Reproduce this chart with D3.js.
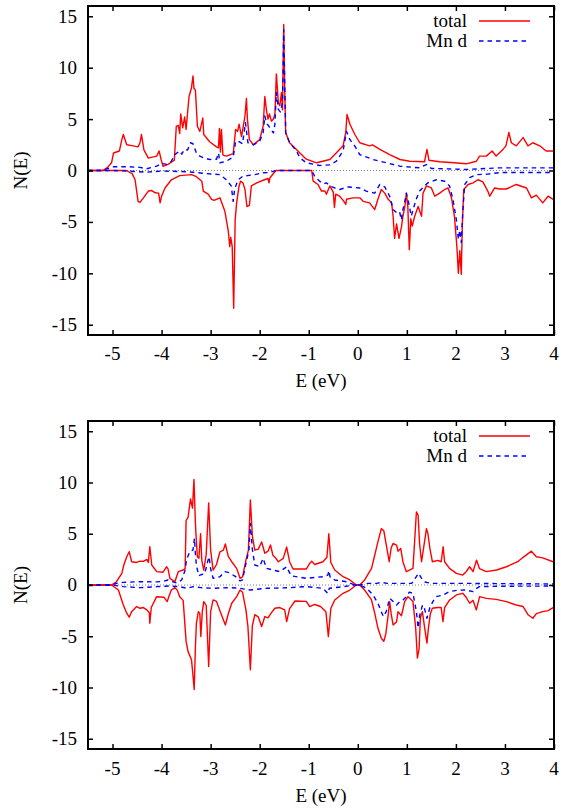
<!DOCTYPE html>
<html>
<head>
<meta charset="utf-8">
<script src="https://cdn.jsdelivr.net/npm/d3@7"></script>
<style>
html,body{margin:0;padding:0;background:#fff;}
svg{display:block;}
</style>
</head>
<body>
<svg id="chart" width="561" height="809"></svg>
<script>
// ---------------- DATA ----------------
const xTicks = [-5, -4, -3, -2, -1, 0, 1, 2, 3, 4];
const yTicks = [-15, -10, -5, 0, 5, 10, 15];
const xDomain = [-5.5, 4];
const yDomain = [-16, 16];
const legendLabels = ["total", "Mn d"];
const xLabel = "E (eV)";
const yLabel = "N(E)";

// Top panel: total DOS, spin up (positive)
const topTotalUp = [[-5.5,0],[-5.2,0],[-5.1,0.3],[-5.02,0.75],[-4.98,1.7],[-4.86,1.9],[-4.81,3.0],[-4.78,3.5],[-4.71,2.5],[-4.58,2.4],[-4.48,2.3],[-4.44,2.7],[-4.41,3.5],[-4.36,2.0],[-4.27,1.2],[-4.10,1.4],[-4.05,1.9],[-4.01,1.07],[-3.97,0.4],[-3.87,0.6],[-3.74,1.0],[-3.70,4.3],[-3.66,4.4],[-3.63,3.6],[-3.61,5.5],[-3.57,4.15],[-3.53,5.2],[-3.50,4.0],[-3.44,7.2],[-3.39,8.05],[-3.36,9.2],[-3.34,8.0],[-3.31,7.8],[-3.27,4.3],[-3.22,3.8],[-3.16,5.1],[-3.14,3.5],[-3.02,2.8],[-2.88,2.3],[-2.84,2.2],[-2.82,4.1],[-2.80,1.8],[-2.78,4.0],[-2.75,1.5],[-2.68,1.4],[-2.54,1.65],[-2.49,4.0],[-2.45,3.8],[-2.42,4.5],[-2.37,3.3],[-2.30,5.3],[-2.27,7.0],[-2.25,5.0],[-2.21,3.0],[-2.13,2.5],[-2.00,3.0],[-1.93,4.3],[-1.895,7.2],[-1.86,5.8],[-1.83,5.0],[-1.80,5.5],[-1.76,4.8],[-1.72,5.0],[-1.69,5.5],[-1.66,9.4],[-1.62,6.6],[-1.59,6.3],[-1.555,7.6],[-1.535,5.9],[-1.51,14.2],[-1.49,8],[-1.47,3.7],[-1.39,2.7],[-1.18,1.7],[-1.05,1.1],[-0.84,0.75],[-0.57,1.07],[-0.44,1.7],[-0.30,2.4],[-0.245,3.7],[-0.22,5.45],[-0.16,4.5],[-0.06,3.5],[0.04,2.7],[0.24,2.4],[0.30,2.5],[0.45,2.05],[0.65,1.55],[0.86,1.07],[1.06,0.9],[1.36,0.85],[1.41,2.05],[1.45,1.0],[1.67,0.85],[1.97,0.75],[2.21,0.65],[2.42,0.9],[2.48,1.4],[2.62,1.4],[2.74,1.9],[2.82,1.4],[2.96,2.05],[3.02,2.4],[3.08,3.7],[3.13,2.7],[3.23,2.4],[3.37,3.2],[3.47,2.4],[3.57,2.7],[3.71,2.4],[3.84,1.9],[4.0,1.9]];
// Top panel: total DOS, spin down (negative)
const topTotalDown = [[-5.5,0],[-4.72,0],[-4.6,-0.3],[-4.54,-0.9],[-4.48,-3.0],[-4.44,-3.1],[-4.37,-2.66],[-4.27,-2.0],[-4.2,-1.95],[-4.13,-2.17],[-4.06,-2.2],[-4.03,-3.15],[-4.0,-2.5],[-3.93,-1.7],[-3.80,-0.9],[-3.63,-0.5],[-3.39,-0.4],[-3.29,-0.6],[-3.18,-1.04],[-3.15,-2.0],[-3.05,-2.3],[-2.98,-2.8],[-2.93,-2.9],[-2.81,-2.66],[-2.71,-3.96],[-2.64,-5.9],[-2.61,-7.4],[-2.59,-6.5],[-2.56,-7.4],[-2.53,-13.4],[-2.50,-4.8],[-2.47,-3.15],[-2.42,-1.5],[-2.39,-1.04],[-2.34,-1.2],[-2.30,-1.85],[-2.26,-3.5],[-2.21,-3.4],[-2.17,-1.5],[-2.06,-1.2],[-1.93,-0.95],[-1.83,-0.78],[-1.81,-1.2],[-1.79,-0.7],[-1.67,0],[-0.94,0],[-0.91,-1.04],[-0.81,-1.36],[-0.74,-2.0],[-0.67,-2.0],[-0.64,-2.3],[-0.57,-1.5],[-0.50,-2.1],[-0.476,-3.6],[-0.45,-2.3],[-0.37,-2.5],[-0.29,-2.95],[-0.245,-3.3],[-0.23,-2.8],[-0.10,-2.66],[0.04,-2.66],[0.11,-3.0],[0.24,-3.15],[0.345,-3.8],[0.41,-2.8],[0.48,-1.85],[0.55,-2.2],[0.62,-2.8],[0.69,-3.15],[0.72,-4.45],[0.75,-6.6],[0.79,-5.2],[0.84,-6.6],[0.89,-5.5],[0.92,-4.45],[0.96,-3.5],[0.99,-2.2],[1.02,-3.5],[1.05,-7.7],[1.08,-4.7],[1.11,-5.4],[1.16,-4.45],[1.23,-3.5],[1.30,-4.45],[1.33,-2.2],[1.40,-1.5],[1.50,-1.7],[1.57,-2.5],[1.67,-2.2],[1.77,-1.85],[1.84,-1.7],[1.91,-2.66],[1.97,-4.45],[2.02,-7.4],[2.05,-10.0],[2.08,-7.8],[2.11,-10.1],[2.13,-5.5],[2.16,-1.85],[2.25,-1.36],[2.35,-1.2],[2.45,-0.9],[2.55,-1.1],[2.65,-2.0],[2.69,-2.5],[2.79,-1.7],[2.89,-1.8],[3.03,-1.8],[3.23,-1.36],[3.44,-1.7],[3.54,-2.66],[3.64,-2.4],[3.77,-3.15],[3.88,-2.5],[3.98,-2.8]];
// Top panel: Mn d, spin up
const topMnUp = [[-5.5,0],[-5.2,0],[-5.0,0.36],[-4.65,0.36],[-4.44,0.3],[-4.31,0.16],[-4.10,0.42],[-4.0,0.68],[-3.9,0.6],[-3.80,0.9],[-3.73,1.55],[-3.63,1.9],[-3.59,1.6],[-3.53,2.05],[-3.47,2.0],[-3.41,2.7],[-3.36,2.6],[-3.29,1.7],[-3.22,1.4],[-3.15,1.24],[-3.02,1.07],[-2.88,1.1],[-2.84,1.7],[-2.81,0.75],[-2.68,0.9],[-2.54,1.3],[-2.49,2.85],[-2.42,2.8],[-2.35,2.6],[-2.29,4.65],[-2.24,2.7],[-2.13,2.5],[-2.00,2.85],[-1.93,3.65],[-1.895,5.3],[-1.86,4.6],[-1.79,4.15],[-1.72,3.65],[-1.69,4.5],[-1.66,7.6],[-1.62,5.95],[-1.58,5.7],[-1.535,6.6],[-1.51,13.7],[-1.47,3.65],[-1.39,2.7],[-1.25,1.9],[-1.18,1.24],[-1.05,0.75],[-0.78,0.49],[-0.57,0.55],[-0.44,0.9],[-0.30,1.9],[-0.23,3.8],[-0.16,3.0],[-0.06,2.37],[0.04,1.55],[0.31,1.07],[0.58,0.75],[0.86,0.42],[1.26,0.26],[1.40,0.58],[1.5,0.2],[2.21,0.1],[2.89,0.26],[4.0,0.26]];
// Top panel: Mn d, spin down
const topMnDown = [[-5.5,0],[-5.0,0],[-4.65,-0.07],[-4.31,-0.17],[-4.0,-0.05],[-3.6,-0.1],[-3.35,-0.17],[-3.08,-0.3],[-2.81,-0.4],[-2.68,-0.9],[-2.58,-1.5],[-2.54,-3.0],[-2.51,-1.8],[-2.44,-0.9],[-2.34,-0.55],[-2.1,-0.4],[-1.93,-0.22],[-1.8,-0.2],[-1.67,0],[-0.94,0],[-0.88,-0.55],[-0.78,-1.04],[-0.7,-1.3],[-0.64,-1.2],[-0.57,-1.5],[-0.47,-1.7],[-0.37,-1.85],[-0.2,-1.6],[0.04,-1.7],[0.17,-2.0],[0.345,-2.2],[0.45,-1.36],[0.55,-1.6],[0.65,-2.5],[0.72,-3.8],[0.79,-4.1],[0.85,-4.0],[0.89,-4.8],[0.92,-3.8],[0.96,-3.0],[0.99,-2.2],[1.04,-3.2],[1.09,-4.45],[1.14,-3.6],[1.19,-2.8],[1.26,-2.0],[1.36,-1.5],[1.43,-1.2],[1.60,-0.9],[1.77,-1.04],[1.87,-1.5],[1.94,-2.8],[2.01,-4.8],[2.05,-6.7],[2.08,-5.8],[2.11,-7.0],[2.14,-4.0],[2.18,-1.36],[2.28,-0.7],[2.42,-0.4],[2.65,-0.35],[2.9,-0.2],[4.0,-0.2]];

// Bottom panel: total DOS, spin up
const botTotalUp = [[-5.5,0],[-5.02,0],[-4.92,0.32],[-4.81,1.14],[-4.77,1.95],[-4.71,2.75],[-4.66,3.25],[-4.61,2.27],[-4.51,2.2],[-4.44,2.33],[-4.37,2.3],[-4.30,2.5],[-4.27,2.2],[-4.24,3.73],[-4.20,1.95],[-4.10,1.3],[-3.97,1.25],[-3.90,1.78],[-3.87,1.6],[-3.83,0.65],[-3.73,0.32],[-3.66,1.3],[-3.56,1.46],[-3.52,1.6],[-3.50,6.3],[-3.46,6.6],[-3.41,8.4],[-3.37,7.5],[-3.34,10.3],[-3.31,6.0],[-3.29,4.2],[-3.27,2.75],[-3.24,2.6],[-3.205,5.0],[-3.18,2.4],[-3.14,1.46],[-3.09,3.0],[-3.04,8.0],[-3.0,3.4],[-2.95,1.46],[-2.88,2.0],[-2.81,3.24],[-2.74,3.4],[-2.70,4.0],[-2.64,2.8],[-2.57,2.27],[-2.47,1.62],[-2.40,0.65],[-2.35,0.8],[-2.28,2.43],[-2.23,3.4],[-2.19,8.3],[-2.15,4.8],[-2.10,3.4],[-2.03,3.5],[-1.96,4.2],[-1.895,3.1],[-1.83,3.3],[-1.78,3.9],[-1.73,2.9],[-1.67,2.6],[-1.62,2.27],[-1.52,2.6],[-1.45,3.7],[-1.39,2.27],[-1.32,1.56],[-1.05,1.56],[-0.98,2.1],[-0.94,2.33],[-0.88,2.0],[-0.71,2.27],[-0.63,2.7],[-0.59,5.0],[-0.55,2.2],[-0.47,1.46],[-0.30,0.81],[-0.16,0.49],[-0.03,0],[0.04,0],[0.14,0.49],[0.28,1.62],[0.345,2.9],[0.41,4.2],[0.48,5.5],[0.53,5.3],[0.57,4.2],[0.64,2.27],[0.68,3.6],[0.72,4.05],[0.79,3.9],[0.82,3.3],[0.875,3.57],[0.92,2.27],[0.99,1.3],[1.125,1.62],[1.195,7.13],[1.23,6.8],[1.26,4.0],[1.30,2.27],[1.36,4.2],[1.40,5.5],[1.43,5.0],[1.47,3.57],[1.52,2.27],[1.63,2.4],[1.70,2.27],[1.74,3.73],[1.77,2.27],[1.87,1.62],[2.01,1.14],[2.14,0.97],[2.21,1.3],[2.28,1.78],[2.35,1.3],[2.42,2.43],[2.48,1.6],[2.62,1.3],[2.83,1.46],[3.03,1.78],[3.26,2.27],[3.37,2.7],[3.54,3.3],[3.64,2.75],[3.77,2.65],[3.98,2.27]];
// Bottom panel: total DOS, spin down
const botTotalDown = [[-5.5,0],[-5.02,0],[-4.88,-0.49],[-4.78,-1.95],[-4.71,-2.75],[-4.66,-3.14],[-4.61,-2.6],[-4.51,-2.1],[-4.44,-2.27],[-4.37,-2.2],[-4.30,-2.43],[-4.25,-2.7],[-4.24,-3.73],[-4.21,-2.2],[-4.10,-1.14],[-3.95,-1.2],[-3.885,-1.62],[-3.85,-1.1],[-3.80,-0.49],[-3.73,-0.26],[-3.68,-0.5],[-3.63,-1.14],[-3.56,-1.5],[-3.50,-5.5],[-3.46,-6.5],[-3.39,-7.3],[-3.37,-8.3],[-3.335,-10.2],[-3.31,-6.0],[-3.29,-3.73],[-3.25,-2.6],[-3.22,-2.8],[-3.20,-5.03],[-3.17,-2.6],[-3.14,-1.62],[-3.09,-2.0],[-3.04,-7.95],[-3.0,-2.6],[-2.95,-1.46],[-2.88,-1.6],[-2.78,-2.9],[-2.70,-3.9],[-2.64,-2.8],[-2.57,-1.78],[-2.47,-1.14],[-2.40,-0.49],[-2.35,-0.7],[-2.28,-2.43],[-2.24,-4.05],[-2.19,-8.27],[-2.15,-4.0],[-2.10,-2.9],[-2.03,-3.1],[-1.96,-4.05],[-1.895,-3.08],[-1.83,-3.2],[-1.76,-2.7],[-1.69,-2.27],[-1.59,-2.2],[-1.49,-2.43],[-1.45,-3.57],[-1.39,-2.3],[-1.28,-1.56],[-1.05,-1.6],[-0.98,-2.1],[-0.88,-1.9],[-0.76,-2.1],[-0.65,-2.6],[-0.60,-5.03],[-0.55,-2.3],[-0.47,-1.46],[-0.30,-0.81],[-0.16,-0.49],[-0.03,0],[0.04,0],[0.14,-0.49],[0.28,-1.46],[0.345,-2.75],[0.41,-4.2],[0.48,-5.2],[0.53,-5.5],[0.57,-4.8],[0.62,-2.9],[0.65,-1.62],[0.68,-2.8],[0.72,-3.9],[0.79,-3.6],[0.82,-2.6],[0.89,-3.0],[0.956,-1.62],[1.023,-1.14],[1.06,-1.3],[1.125,-1.62],[1.18,-4.2],[1.215,-7.13],[1.25,-6.2],[1.276,-3.2],[1.317,-2.6],[1.364,-4.2],[1.41,-5.67],[1.44,-4.2],[1.48,-2.8],[1.52,-2.27],[1.63,-2.2],[1.70,-2.2],[1.737,-3.57],[1.77,-2.2],[1.873,-1.46],[2.01,-0.97],[2.14,-0.81],[2.21,-1.2],[2.28,-1.78],[2.35,-1.5],[2.417,-2.43],[2.484,-1.14],[2.62,-1.3],[2.82,-1.4],[3.03,-1.62],[3.23,-1.95],[3.37,-2.1],[3.47,-2.9],[3.57,-3.24],[3.64,-2.8],[3.77,-2.6],[3.88,-2.5],[3.98,-2.2]];
// Bottom panel: Mn d, spin up
const botMnUp = [[-5.5,0],[-5.02,0],[-4.92,0.16],[-4.78,0.26],[-4.44,0.32],[-4.10,0.3],[-3.97,0.35],[-3.87,0.49],[-3.80,0.35],[-3.69,0.2],[-3.59,0.49],[-3.52,1.46],[-3.49,2.5],[-3.42,3.3],[-3.36,3.4],[-3.33,4.54],[-3.31,3.0],[-3.29,1.9],[-3.24,0.9],[-3.20,1.0],[-3.12,1.1],[-3.06,2.3],[-3.03,2.75],[-3.0,1.6],[-2.95,0.65],[-2.81,0.81],[-2.71,1.3],[-2.62,1.2],[-2.49,0.81],[-2.40,0.4],[-2.35,0.5],[-2.28,2.1],[-2.22,3.4],[-2.19,6.0],[-2.15,3.5],[-2.10,1.95],[-2.0,1.8],[-1.93,2.6],[-1.86,1.62],[-1.73,1.46],[-1.59,1.3],[-1.45,1.78],[-1.36,0.9],[-1.05,0.65],[-0.71,0.81],[-0.61,0.97],[-0.59,1.4],[-0.56,0.7],[-0.47,0.49],[-0.23,0.32],[-0.06,0],[0.04,0],[0.21,0.16],[0.38,0.16],[0.48,0.26],[0.6,0.16],[0.86,0.16],[1.1,0.16],[1.24,1.14],[1.30,0.65],[1.36,0.3],[1.5,0.16],[2.2,0.16],[4.0,0.1]];
// Bottom panel: Mn d, spin down
const botMnDown = [[-5.5,0],[-5.0,0],[-4.78,-0.16],[-4.44,-0.26],[-4.1,-0.16],[-3.85,-0.1],[-3.63,-0.16],[-3.49,-0.32],[-3.35,-0.16],[-3.2,-0.26],[-2.95,-0.32],[-2.6,-0.26],[-2.40,-0.32],[-2.20,-0.49],[-1.86,-0.32],[-1.39,-0.26],[-1.05,-0.16],[-0.71,-0.32],[-0.61,-0.81],[-0.58,-0.32],[-0.3,-0.16],[-0.06,0],[0.04,0],[0.18,-0.32],[0.31,-0.97],[0.41,-1.78],[0.48,-2.6],[0.52,-3.08],[0.58,-2.6],[0.65,-1.3],[0.72,-1.6],[0.79,-1.95],[0.86,-1.6],[0.92,-1.46],[0.99,-1.14],[1.05,-0.7],[1.125,-0.81],[1.195,-2.6],[1.23,-4.2],[1.26,-3.0],[1.32,-1.95],[1.36,-2.3],[1.41,-3.24],[1.47,-2.2],[1.53,-1.62],[1.60,-1.14],[1.74,-0.97],[1.87,-0.65],[2.04,-0.5],[2.21,-0.49],[2.35,-0.65],[2.40,-0.4],[2.48,-0.16],[2.9,-0.12],[4.0,-0.1]];

// ---------------- DRAW ----------------
const svg = d3.select("#chart");
const RED = "#ff0000", BLUE = "#0000ff";
const FONT = 19;
const FAMILY = "'Liberation Serif', 'Times New Roman', Times, serif";

const panels = [
  {top: 6, bottom: 335, tickLabelY: 360, xTitleY: 387, series: [topTotalUp, topTotalDown, topMnUp, topMnDown]},
  {top: 421, bottom: 749, tickLabelY: 775, xTitleY: 802, series: [botTotalUp, botTotalDown, botMnUp, botMnDown]}
];
const left = 88, right = 554;

function txt(sel) {
  return sel.style("font-family", FAMILY).style("font-size", FONT + "px").attr("fill", "#000");
}

panels.forEach((p, i) => {
  const x = d3.scaleLinear().domain(xDomain).range([left, right]);
  const y = d3.scaleLinear().domain(yDomain).range([p.bottom, p.top]);
  const g = svg.append("g");
  const clipId = "clip" + i;
  svg.append("clipPath").attr("id", clipId).append("rect")
    .attr("x", left).attr("y", p.top).attr("width", right - left).attr("height", p.bottom - p.top);

  // zero line
  g.append("line").attr("x1", x(xDomain[0])).attr("x2", x(xDomain[1]))
    .attr("y1", y(0)).attr("y2", y(0))
    .attr("stroke", "#808080").attr("stroke-width", 1).attr("stroke-dasharray", "1,2");

  const line = d3.line().x(d => x(d[0])).y(d => y(d[1]));
  const plot = g.append("g").attr("clip-path", `url(#${clipId})`);
  const styles = [
    {c: RED, dash: null}, {c: RED, dash: null},
    {c: BLUE, dash: "4.5,4"}, {c: BLUE, dash: "4.5,4"}
  ];
  p.series.forEach((s, k) => {
    plot.append("path").datum(s).attr("d", line)
      .attr("fill", "none").attr("stroke", styles[k].c)
      .attr("stroke-width", 1.4).attr("stroke-linejoin", "round")
      .attr("stroke-dasharray", styles[k].dash);
  });

  // axes (inward ticks on all sides)
  const tl = 5;
  const axB = d3.axisBottom(x).tickValues(xTicks).tickSize(-tl).tickFormat("");
  const axT = d3.axisTop(x).tickValues(xTicks).tickSize(-tl).tickFormat("");
  const axL = d3.axisLeft(y).tickValues(yTicks).tickSize(-tl).tickFormat("");
  const axR = d3.axisRight(y).tickValues(yTicks).tickSize(-tl).tickFormat("");
  [[axB, `translate(0,${p.bottom})`], [axT, `translate(0,${p.top})`],
   [axL, `translate(${left},0)`], [axR, `translate(${right},0)`]].forEach(([ax, tr]) => {
    const a = g.append("g").attr("transform", tr).call(ax);
    a.select(".domain").remove();
    a.selectAll("text").remove();
    a.selectAll("line").attr("stroke", "#000").attr("stroke-width", 1.5);
  });

  // frame
  g.append("rect").attr("x", left).attr("y", p.top)
    .attr("width", right - left).attr("height", p.bottom - p.top)
    .attr("fill", "none").attr("stroke", "#000").attr("stroke-width", 2);

  // tick labels
  txt(g.selectAll(".xl").data(xTicks).enter().append("text")
    .attr("x", d => x(d)).attr("y", p.tickLabelY)
    .attr("text-anchor", "middle").text(d => d));
  txt(g.selectAll(".yl").data(yTicks).enter().append("text")
    .attr("x", 77).attr("y", d => y(d)).attr("dy", "0.34em")
    .attr("text-anchor", "end").text(d => d));

  // axis titles
  txt(g.append("text").attr("x", (left + right) / 2).attr("y", p.xTitleY)
    .attr("text-anchor", "middle").text(xLabel));
  txt(g.append("text").attr("transform", `translate(27,${y(0)}) rotate(-90)`)
    .attr("text-anchor", "middle").text(yLabel));

  // legend
  const lg = g.append("g");
  legendLabels.forEach((lab, k) => {
    const ly = p.top + 15 + k * 20;
    txt(lg.append("text").attr("x", 467).attr("y", ly).attr("dy", "0.34em")
      .attr("text-anchor", "end").text(lab));
    lg.append("line").attr("x1", 479).attr("x2", 530).attr("y1", ly).attr("y2", ly)
      .attr("stroke", k === 0 ? RED : BLUE).attr("stroke-width", 1.4)
      .attr("stroke-dasharray", k === 0 ? null : "4.5,4");
  });
});
</script>
</body>
</html>
